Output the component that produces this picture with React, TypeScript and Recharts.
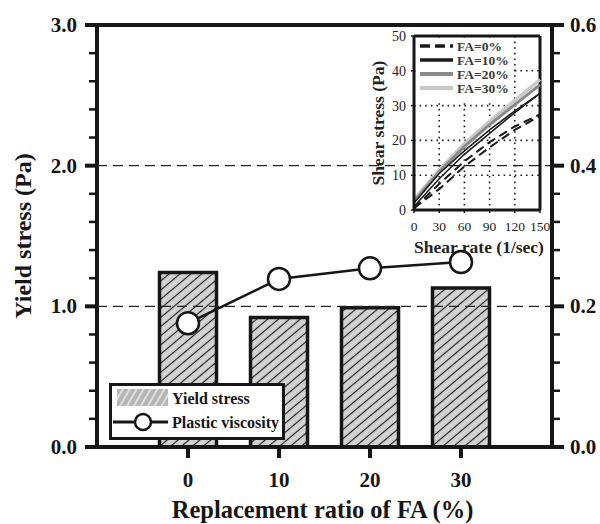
import React from 'react';
import {
  ComposedChart,
  LineChart,
  Bar,
  Line,
  XAxis,
  YAxis,
  ReferenceLine,
  Legend,
  CartesianGrid,
} from 'recharts';

// ---------- main chart data ----------
const ratios = [0, 10, 20, 30];
const yieldStress = [1.24, 0.92, 0.99, 1.13];
const plasticViscosity = [0.176, 0.239, 0.254, 0.263];
const xTicks = [0, 10, 20, 30];
const leftTicks = [0, 0.2, 0.4, 0.6, 0.8, 1, 1.2, 1.4, 1.6, 1.8, 2, 2.2, 2.4, 2.6, 2.8, 3];
const rightTicks = [0, 0.04, 0.08, 0.12, 0.16, 0.2, 0.24, 0.28, 0.32, 0.36, 0.4, 0.44, 0.48, 0.52, 0.56, 0.6];
const leftMajor = [0, 1, 2, 3];
const rightMajor = [0, 0.2, 0.4, 0.6];

// ---------- inset data ----------
const shearRate = [0, 30, 60, 90, 120, 150];
const fa0Up = [0.5, 7.5, 14, 19.5, 24, 27.5];
const fa0Down = [0.5, 6, 12.5, 18, 23, 27];
const fa10Up = [2, 10.5, 17, 23, 28.5, 33.5];
const fa10Down = [1, 9, 16, 22, 28, 33.5];
const fa20 = [2.5, 11, 18.2, 24.5, 30.3, 36];
const fa30 = [3, 11.5, 19, 25.5, 31.5, 37.5];
const insetXTicks = [0, 30, 60, 90, 120, 150];
const insetYTicks = [0, 10, 20, 30, 40, 50];
const insetLegend = ['FA=0%', 'FA=10%', 'FA=20%', 'FA=30%'];

const mainData = ratios.map((r, i) => ({ ratio: r, ys: yieldStress[i], pv: plasticViscosity[i] }));
const insetData = shearRate.map((s, i) => ({
  s,
  fa0Up: fa0Up[i],
  fa0Down: fa0Down[i],
  fa10Up: fa10Up[i],
  fa10Down: fa10Down[i],
  fa20: fa20[i],
  fa30: fa30[i],
}));

const FONT = '"Liberation Serif", "Times New Roman", serif';
const INK = '#161616';

const isMajor = (v: number, majors: number[]) => majors.some((m) => Math.abs(m - v) < 1e-6);

const LeftTick = (props: any) => {
  const { x, y, payload } = props;
  const major = isMajor(payload.value, leftMajor);
  return (
    <g>
      <line x1={x} x2={x - (major ? 12 : 8)} y1={y} y2={y} stroke={INK} strokeWidth={major ? 4 : 2.5} />
      {major && (
        <text x={x - 20} y={y} textAnchor="end" dominantBaseline="central" fontFamily={FONT} fontWeight="bold" fontSize={21} fill={INK}>
          {payload.value.toFixed(1)}
        </text>
      )}
    </g>
  );
};

const RightTick = (props: any) => {
  const { x, y, payload } = props;
  const major = isMajor(payload.value, rightMajor);
  return (
    <g>
      <line x1={x} x2={x + (major ? 12 : 8)} y1={y} y2={y} stroke={INK} strokeWidth={major ? 4 : 2.5} />
      {major && (
        <text x={x + 18} y={y} textAnchor="start" dominantBaseline="central" fontFamily={FONT} fontWeight="bold" fontSize={21} fill={INK}>
          {payload.value.toFixed(1)}
        </text>
      )}
    </g>
  );
};

const BottomTick = (props: any) => {
  const { x, y, payload } = props;
  return (
    <g>
      <line x1={x} x2={x} y1={y} y2={y + 11} stroke={INK} strokeWidth={4} />
      <text x={x} y={y + 40} textAnchor="middle" fontFamily={FONT} fontWeight="bold" fontSize={21} fill={INK}>
        {payload.value}
      </text>
    </g>
  );
};

const InsetXTick = (props: any) => {
  const { x, y, payload } = props;
  return (
    <g>
      <line x1={x} x2={x} y1={y} y2={y + 3} stroke={INK} strokeWidth={1.5} />
      <text x={x} y={y + 21} textAnchor="middle" fontFamily={FONT} fontSize={13.5} fill="#222">
        {payload.value}
      </text>
    </g>
  );
};

const MainLegend = () => (
  <svg width={176} height={57} style={{ display: 'block' }}>
    <rect x={1.5} y={1.5} width={173} height={54} fill="#fff" stroke={INK} strokeWidth={3} />
    <rect x={8} y={6} width={51} height={17} fill="url(#hatchLegend)" />
    <text x={63} y={15} dominantBaseline="central" fontFamily={FONT} fontWeight="bold" fontSize={16} fill={INK}>
      Yield stress
    </text>
    <line x1={4} x2={59} y1={39} y2={39} stroke={INK} strokeWidth={3} />
    <circle cx={34} cy={39} r={8} fill="#fff" stroke={INK} strokeWidth={2.5} />
    <text x={63} y={39} dominantBaseline="central" fontFamily={FONT} fontWeight="bold" fontSize={16} fill={INK}>
      Plastic viscosity
    </text>
  </svg>
);

const insetStyles = [
  { stroke: '#1a1a1a', width: 3.5, dash: '10 5' },
  { stroke: '#1a1a1a', width: 3.5, dash: undefined },
  { stroke: '#8a8a8a', width: 4, dash: undefined },
  { stroke: '#c9c9c9', width: 4, dash: undefined },
];

const InsetLegend = () => (
  <svg width={95} height={62} style={{ display: 'block' }}>
    <rect x={0} y={0} width={95} height={62} fill="#fff" />
    {insetLegend.map((name, i) => (
      <g key={name}>
        <line
          x1={3}
          x2={36}
          y1={7 + i * 14}
          y2={7 + i * 14}
          stroke={insetStyles[i].stroke}
          strokeWidth={insetStyles[i].width}
          strokeDasharray={insetStyles[i].dash}
        />
        <text x={40} y={7 + i * 14} dominantBaseline="central" fontFamily={FONT} fontWeight="bold" fontSize={13.5} fill="#3a3a3a">
          {name}
        </text>
      </g>
    ))}
  </svg>
);

export default function App() {
  return (
    <div style={{ position: 'absolute', left: 0, top: 0, width: 600, height: 524, background: '#fff' }}>
      <svg width={0} height={0} style={{ position: 'absolute' }}>
        <defs>
          <pattern id="hatchBar" width={7} height={7} patternUnits="userSpaceOnUse" patternTransform="rotate(-40)">
            <rect x={0} y={0} width={7} height={7} fill="#d3d3d3" />
            <line x1={0} x2={7} y1={3.5} y2={3.5} stroke="#222" strokeWidth={1.2} />
          </pattern>
          <pattern id="hatchLegend" width={6} height={6} patternUnits="userSpaceOnUse" patternTransform="rotate(-60)">
            <rect x={0} y={0} width={6} height={6} fill="#b5b5b5" />
            <line x1={0} x2={6} y1={3} y2={3} stroke="#f4f4f4" strokeWidth={1.3} />
          </pattern>
        </defs>
      </svg>

      <ComposedChart width={600} height={524} data={mainData} margin={{ top: 25, right: 0, bottom: 0, left: 0 }}>
        <XAxis
          dataKey="ratio"
          type="number"
          domain={[-10, 40]}
          ticks={xTicks}
          interval={0}
          height={77}
          tickSize={0}
          tickMargin={0}
          tickLine={false}
          axisLine={{ stroke: INK, strokeWidth: 4 }}
          tick={<BottomTick />}
          label={{
            content: (p: any) => {
              const vb = p.viewBox;
              return (
                <text x={vb.x + vb.width / 2 - 2} y={vb.y + 71} textAnchor="middle" fontFamily={FONT} fontWeight="bold" fontSize={24.5} fill={INK}>
                  Replacement ratio of FA (%)
                </text>
              );
            },
          }}
        />
        <YAxis
          yAxisId="left"
          domain={[0, 3]}
          ticks={leftTicks}
          interval={0}
          width={97}
          tickSize={0}
          tickMargin={0}
          tickLine={false}
          axisLine={{ stroke: INK, strokeWidth: 4 }}
          tick={<LeftTick />}
          label={{
            content: (p: any) => {
              const vb = p.viewBox;
              const cx = vb.x + 23;
              const cy = vb.y + vb.height / 2;
              return (
                <text x={cx} y={cy} transform={`rotate(-90 ${cx} ${cy})`} textAnchor="middle" dominantBaseline="central" fontFamily={FONT} fontWeight="bold" fontSize={24} fill={INK}>
                  Yield stress (Pa)
                </text>
              );
            },
          }}
        />
        <YAxis
          yAxisId="right"
          orientation="right"
          domain={[0, 0.6]}
          ticks={rightTicks}
          interval={0}
          width={48}
          tickSize={0}
          tickMargin={0}
          tickLine={false}
          axisLine={{ stroke: INK, strokeWidth: 4 }}
          tick={<RightTick />}
        />
        <ReferenceLine yAxisId="left" y={1} stroke="#222" strokeWidth={1.3} strokeDasharray="10 6" />
        <ReferenceLine yAxisId="left" y={2} stroke="#222" strokeWidth={1.3} strokeDasharray="10 6" />
        <ReferenceLine yAxisId="left" y={3} stroke={INK} strokeWidth={4} />
        <Bar yAxisId="left" dataKey="ys" name="Yield stress" barSize={57} fill="url(#hatchBar)" stroke={INK} strokeWidth={3.5} isAnimationActive={false} />
        <Line
          yAxisId="right"
          dataKey="pv"
          name="Plastic viscosity"
          stroke={INK}
          strokeWidth={2.5}
          dot={{ r: 11, fill: '#fff', stroke: INK, strokeWidth: 2.5 }}
          isAnimationActive={false}
        />
        <Legend
          layout="vertical"
          align="center"
          verticalAlign="middle"
          content={() => <MainLegend />}
          wrapperStyle={{ position: 'absolute', left: 109, top: 383, width: 176, height: 57 }}
        />
      </ComposedChart>

      <div style={{ position: 'absolute', left: 360, top: 25, width: 190, height: 232 }}>
        <LineChart width={190} height={232} data={insetData} margin={{ top: 11, right: 10, bottom: 0, left: 10 }}>
          <CartesianGrid stroke="#222" strokeWidth={1.6} strokeDasharray="1.6 4" />
          <XAxis
            dataKey="s"
            type="number"
            domain={[0, 150]}
            ticks={insetXTicks}
            interval={0}
            height={47}
            tickSize={0}
            tickMargin={0}
            tickLine={false}
            axisLine={{ stroke: INK, strokeWidth: 3 }}
            tick={<InsetXTick />}
            label={{
              content: (p: any) => {
                const vb = p.viewBox;
                return (
                  <text x={vb.x + vb.width / 2 + 2} y={vb.y + 43} textAnchor="middle" fontFamily={FONT} fontWeight="bold" fontSize={17.5} fill="#222">
                    Shear rate (1/sec)
                  </text>
                );
              },
            }}
          />
          <YAxis
            domain={[0, 50]}
            ticks={insetYTicks}
            interval={0}
            width={44}
            tickSize={3}
            tickMargin={5}
            tickLine={{ stroke: INK, strokeWidth: 1.5 }}
            axisLine={{ stroke: INK, strokeWidth: 3 }}
            tick={{ fontFamily: FONT, fontSize: 14, fill: '#222' }}
            label={{
              content: (p: any) => {
                const vb = p.viewBox;
                const cx = vb.x + 8;
                const cy = vb.y + vb.height / 2;
                return (
                  <text x={cx} y={cy} transform={`rotate(-90 ${cx} ${cy})`} textAnchor="middle" dominantBaseline="central" fontFamily={FONT} fontWeight="bold" fontSize={17.5} fill="#222">
                    Shear stress (Pa)
                  </text>
                );
              },
            }}
          />
          <ReferenceLine y={50} stroke={INK} strokeWidth={3} />
          <ReferenceLine x={150} stroke={INK} strokeWidth={3} />
          <Line dataKey="fa30" stroke={insetStyles[3].stroke} strokeWidth={3.5} dot={false} isAnimationActive={false} />
          <Line dataKey="fa20" stroke={insetStyles[2].stroke} strokeWidth={3} dot={false} isAnimationActive={false} />
          <Line dataKey="fa10Up" stroke={insetStyles[1].stroke} strokeWidth={1.5} dot={false} isAnimationActive={false} />
          <Line dataKey="fa10Down" stroke={insetStyles[1].stroke} strokeWidth={1.5} dot={false} isAnimationActive={false} />
          <Line dataKey="fa0Up" stroke={insetStyles[0].stroke} strokeWidth={2} strokeDasharray="9 5" dot={false} isAnimationActive={false} />
          <Line dataKey="fa0Down" stroke={insetStyles[0].stroke} strokeWidth={2} strokeDasharray="9 5" dot={false} isAnimationActive={false} />
          <Legend
            layout="vertical"
            align="center"
            verticalAlign="middle"
            content={() => <InsetLegend />}
            wrapperStyle={{ position: 'absolute', left: 57, top: 14, width: 95, height: 62 }}
          />
        </LineChart>
      </div>
    </div>
  );
}
